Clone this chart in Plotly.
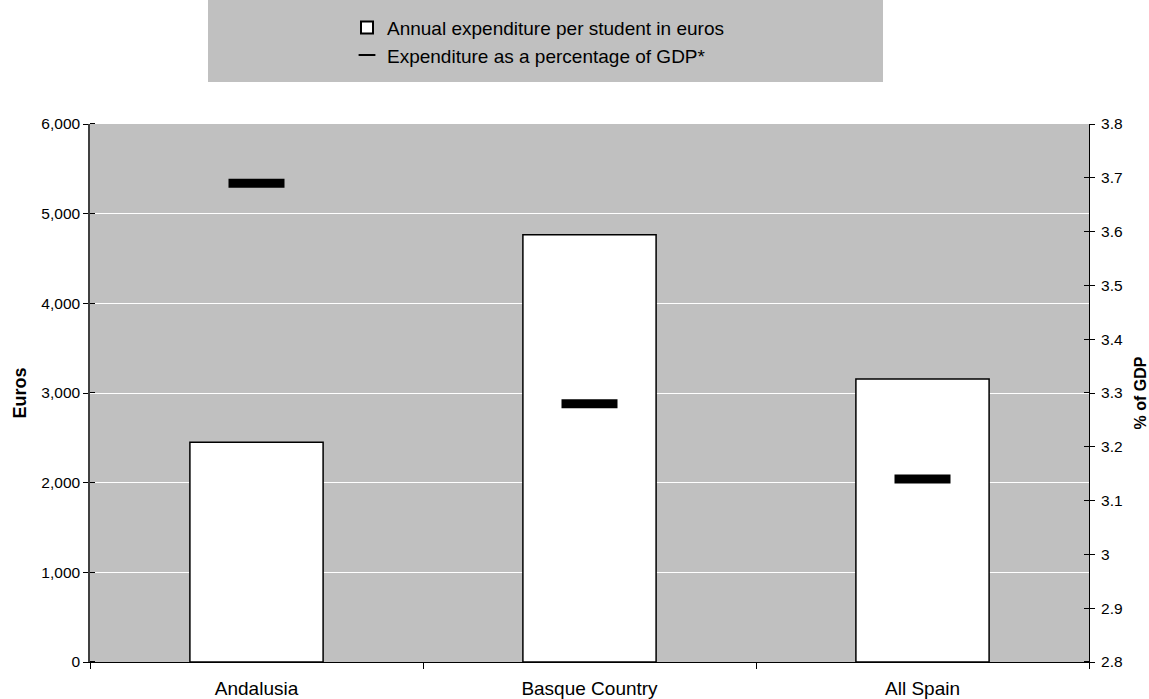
import plotly.graph_objects as go

# Regions compared
regions = ["Andalusia", "Basque Country", "All Spain"]
# Annual expenditure per student (euros)
spend_per_student = [2450, 4765, 3155]
# Expenditure as a share of GDP (%)
pct_gdp = [3.69, 3.28, 3.14]

left_ticks = [0, 1000, 2000, 3000, 4000, 5000, 6000]
right_ticks = [2.8, 2.9, 3.0, 3.1, 3.2, 3.3, 3.4, 3.5, 3.6, 3.7, 3.8]

FONT = "Liberation Sans, Arial, sans-serif"
GREY = "#C0C0C0"

fig = go.Figure()

fig.add_trace(go.Bar(
    x=regions, y=spend_per_student,
    name="Annual expenditure per student in euros",
    marker=dict(color="white", line=dict(color="black", width=1.5)),
    width=0.4, legendgroup="a", yaxis="y",
))

fig.add_trace(go.Scatter(
    x=regions, y=pct_gdp, mode="markers",
    name="Expenditure as a percentage of GDP*",
    marker=dict(symbol="line-ew", size=40, color="black",
                line=dict(color="black", width=9)),
    legendgroup="b", yaxis="y2",
))

fig.update_layout(
    width=1149, height=699,
    margin=dict(l=90, r=60, t=124, b=37, autoexpand=False),
    paper_bgcolor="white", plot_bgcolor=GREY,
    font=dict(family=FONT, size=15.5, color="black"),
    barmode="overlay",
    showlegend=True,
    legend=dict(
        x=(347 - 90) / 999, xanchor="left", y=1.2146, yanchor="top",
        bgcolor="rgba(0,0,0,0)", font=dict(size=19, family=FONT),
        tracegroupgap=0, itemsizing="constant",
    ),
    xaxis=dict(
        type="category", showgrid=False, showline=True, linecolor="black",
        linewidth=1, ticks="outside", ticklen=6, tickcolor="black",
        tickson="boundaries", tickfont=dict(size=19), zeroline=False,
        ticklabelstandoff=9, automargin=False,
    ),
    yaxis=dict(
        range=[0, 6000], tickvals=left_ticks, tickformat=",",
        showgrid=True, gridcolor="white", gridwidth=1,
        showline=True, linecolor="#404040", linewidth=1.5,
        ticks="outside", ticklen=5, tickcolor="black",
        minor=dict(tickmode="array", tickvals=[v + 0.5 for v in left_ticks],
                   ticks="inside", ticklen=5, tickcolor="black", showgrid=False),
        title=dict(text="<b>Euros</b>", font=dict(size=18), standoff=10),
        zeroline=False, tickfont=dict(size=15.5), automargin=False,
    ),
    yaxis2=dict(
        overlaying="y", side="right", range=[2.8, 3.8], tickvals=right_ticks,
        showgrid=False, showline=True, linecolor="black", linewidth=1,
        ticks="outside", ticklen=5, tickcolor="black",
        minor=dict(tickmode="array", tickvals=[v + 0.0001 for v in right_ticks],
                   ticks="inside", ticklen=5, tickcolor="black", showgrid=False),
        title=dict(text="<b>% of GDP</b>", font=dict(size=16), standoff=14),
        zeroline=False, tickfont=dict(size=15.5), automargin=False,
        ticklabelstandoff=3,
    ),
    shapes=[dict(
        type="rect", xref="paper", yref="paper",
        x0=(208 - 90) / 999, x1=(883 - 90) / 999,
        y0=(662 - 82) / 538, y1=(662 - 0) / 538,
        fillcolor=GREY, line=dict(width=0), layer="below",
    )],
)

fig.write_html("out.html")
